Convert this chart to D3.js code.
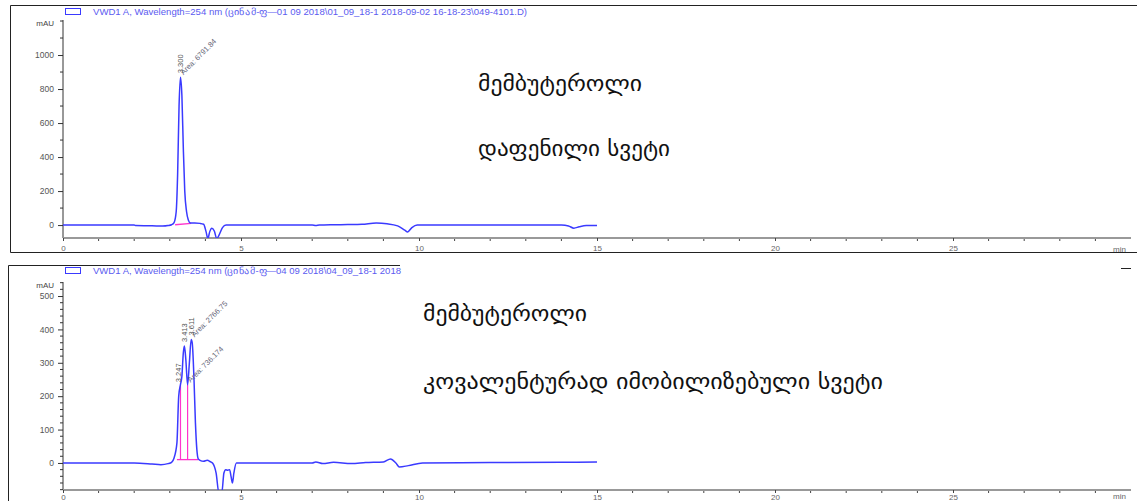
<!DOCTYPE html>
<html><head><meta charset="utf-8">
<script src="https://cdn.jsdelivr.net/npm/d3@7/dist/d3.min.js"></script>
<style>
html,body{margin:0;padding:0;background:#fff;}
svg{display:block;}
</style></head>
<body>
<svg id="chart" width="1137" height="501"></svg>
<script>
// ---- DATA ----
// Top chromatogram (time in min, signal in mAU)
const topTime   = [0,1,2,2.05,2.5,2.8,2.95,3.05,3.12,3.18,3.22,3.26,3.30,3.34,3.38,3.42,3.47,3.52,3.58,3.7,3.85,3.95,4.02,4.07,4.12,4.18,4.25,4.32,4.38,4.48,4.58,5,6,7,7.1,7.2,7.6,8,8.4,8.8,9.1,9.4,9.6,9.68,9.8,9.95,10.5,12,14,14.2,14.35,14.5,14.7,15];
const topSignal = [0,0,0,-3,-4,-6,-3,2,15,80,300,700,870,760,450,200,80,30,12,12,10,5,-40,-80,-40,-18,-35,-80,-60,-15,0,0,0,0,-3,0,2,3,5,12,8,-5,-30,-40,-15,0,0,0,0,-5,-18,-10,-3,-3];
const topBaselineTime = [3.15,3.6];
const topBaselineVal  = [2,10];
const topPeakLabels = ["3.300"];
const topPeakTimes  = [3.30];
const topAreaLabels = ["Area: 6791.84"];

// Bottom chromatogram
const botTime   = [0,1,2,2.5,2.75,2.95,3.05,3.12,3.2,3.25,3.3,3.34,3.38,3.41,3.45,3.5,3.55,3.6,3.63,3.68,3.72,3.76,3.8,3.85,3.95,4.05,4.15,4.2,4.3,4.38,4.46,4.52,4.57,4.63,4.68,4.72,4.76,4.8,4.87,5,6,7,7.1,7.3,7.6,8.1,8.5,9,9.2,9.35,9.45,9.7,10.1,12,14,15];
const botSignal = [0,0,0,-3,-5,-2,2,15,60,200,235,260,330,350,310,234,300,370,360,250,120,40,12,8,5,8,3,0,-30,-90,-90,-30,-20,-22,-20,-40,-60,-30,0,0,0,0,3,-2,2,-2,1,3,12,0,-12,-8,0,1,2,3];
const botBaselineTime = [3.2,3.8];
const botBaselineVal  = [10,10];
const botDropTimes = [3.3,3.5];
const botDropTops  = [235,234];
const botPeakLabels = ["3.247","3.413","3.611"];
const botPeakTimes  = [3.247,3.413,3.611];
const botPeakVals   = [230,350,370];
const botAreaLabels = ["Area: 736.174","Area: 2766.75"];
const botAreaTimes  = [3.5,3.611];
const botAreaVals   = [234,370];

// axes ticks
const xMajor = [0,5,10,15,20,25];
const topYMajor = [0,200,400,600,800,1000];
const botYMajor = [0,100,200,300,400,500];

const topTitle = "VWD1 A, Wavelength=254 nm (ცინამ‑ფ—01 09 2018\\01_09_18-1 2018-09-02 16-18-23\\049-4101.D)";
const botTitle = "VWD1 A, Wavelength=254 nm (ცინამ‑ფ—04 09 2018\\04_09_18-1 2018";
const topNotes = ["მემბუტეროლი","დაფენილი სვეტი"];
const botNotes = ["მემბუტეროლი","კოვალენტურად იმობილიზებული სვეტი"];

// ---- DRAW ----
const svg = d3.select("#chart");
const LBL = "'Liberation Sans', Arial, sans-serif";
const TRACE = "#3a3aff";

// Frames
svg.append("path").attr("d","M10.5,252.5 V5.5 H1137 M10.5,252.5 H1137").attr("fill","none").attr("stroke","#222").attr("stroke-width",1);
svg.append("path").attr("d","M8.5,501 V265.5 H400").attr("fill","none").attr("stroke","#222").attr("stroke-width",1);
svg.append("line").attr("x1",1121).attr("x2",1131).attr("y1",268.5).attr("y2",268.5).attr("stroke","#222");

function panel(o){
  const x = d3.scaleLinear().domain([0,30]).range([63,1131]);
  const y = d3.scaleLinear().domain(o.yDomain).range(o.yRange);
  const g = svg.append("g");
  const id = "clip"+o.name;
  svg.append("defs").append("clipPath").attr("id",id).append("rect")
    .attr("x",63).attr("y",o.yRange[1]).attr("width",1131-63).attr("height",o.yRange[0]-o.yRange[1]);

  // legend + title
  g.append("rect").attr("x",65.5).attr("y",o.titleY-3.5).attr("width",15).attr("height",6)
    .attr("fill","none").attr("stroke",TRACE).attr("stroke-width",1);
  g.append("text").attr("x",93).attr("y",o.titleY+3).attr("font-family",LBL).attr("font-size",8.5)
    .attr("fill","#5b5bf0").attr("textLength",o.titleLen).attr("lengthAdjust","spacingAndGlyphs").text(o.title);

  // y axis
  const yAxis = d3.axisLeft(y).tickValues(o.yMajor).tickSize(5).tickPadding(4).tickFormat(d3.format("d"));
  const ya = g.append("g").attr("transform","translate(63,0)").call(yAxis);
  ya.select(".domain").attr("d",`M0,${o.yRange[1]}V${o.yRange[0]}`).attr("stroke","#333");
  ya.selectAll(".tick line").attr("stroke","#333");
  ya.selectAll(".tick text").attr("font-family",LBL).attr("font-size",8.5).attr("fill","#555");
  const yMinor = d3.range(Math.ceil(o.yDomain[0]/o.minorY)*o.minorY, o.yDomain[1], o.minorY)
      .filter(v=>o.yMajor.indexOf(v)<0);
  g.selectAll(".ymin").data(yMinor).enter().append("line")
    .attr("x1",60).attr("x2",63).attr("y1",d=>y(d)).attr("y2",d=>y(d)).attr("stroke","#333");
  g.append("text").attr("x",54).attr("y",o.yRange[1]+6).attr("text-anchor","end")
    .attr("font-family",LBL).attr("font-size",8).attr("fill","#444").text("mAU");

  // x axis
  const xa = g.append("g").attr("transform",`translate(0,${o.yRange[0]})`)
    .call(d3.axisBottom(x).tickValues(xMajor).tickSize(3).tickPadding(o.xPad).tickFormat(d3.format("d")));
  xa.select(".domain").attr("d","M63,0H1131").attr("stroke","#999").attr("stroke-width",2.2);
  xa.selectAll(".tick line").attr("stroke","#444");
  xa.selectAll(".tick text").attr("font-family",LBL).attr("font-size",8).attr("fill","#666");
  g.selectAll(".xmin").data(d3.range(1,30).filter(v=>v%5)).enter().append("line")
    .attr("x1",d=>x(d)).attr("x2",d=>x(d)).attr("y1",o.yRange[0]+1).attr("y2",o.yRange[0]+3).attr("stroke","#444");
  g.append("text").attr("x",1113).attr("y",o.yRange[0]+o.minY).attr("font-family",LBL).attr("font-size",8)
    .attr("fill","#666").text("min");

  const plot = g.append("g").attr("clip-path",`url(#${id})`);
  // baseline(s)
  plot.append("path").attr("d",d3.line().x(d=>x(d[0])).y(d=>y(d[1]))(d3.zip(o.bt,o.bv)))
    .attr("stroke","#ff33cc").attr("stroke-width",1.3).attr("fill","none");
  (o.dropT||[]).forEach((t,i)=>{
    plot.append("line").attr("x1",x(t)).attr("x2",x(t)).attr("y1",y(o.bv[0])).attr("y2",y(o.dropV[i]))
      .attr("stroke","#ff33cc").attr("stroke-width",1.2);
  });
  // trace
  plot.append("path").attr("d",d3.line().x(d=>x(d[0])).y(d=>y(d[1])).curve(d3.curveMonotoneX)(d3.zip(o.t,o.s)))
    .attr("stroke",TRACE).attr("stroke-width",1.5).attr("fill","none");

  // peak labels
  o.pl.forEach((lab,i)=>{
    const px = x(o.pt[i]), py = y(o.pv[i]);
    g.append("text").attr("transform",`translate(${px+2.5},${py-4}) rotate(-90)`)
      .attr("font-family",LBL).attr("font-size",7.5).attr("fill","#555").text(lab);
  });
  o.al.forEach((lab,i)=>{
    const px = x(o.at[i]), py = y(o.av[i]);
    g.append("text").attr("transform",`translate(${px+3},${py-2}) rotate(-45)`)
      .attr("font-family",LBL).attr("font-size",7.5).attr("fill","#667").text(lab);
  });

  // notes
  o.notes.forEach((n,i)=>{
    svg.append("text").attr("x",o.noteX).attr("y",o.noteY[i]).attr("font-family","'DejaVu Sans', sans-serif")
      .attr("font-size",21).attr("fill","#111")
      .attr("textLength",o.noteLen[i]).attr("lengthAdjust","spacingAndGlyphs").text(n);
  });
}

panel({name:"top", yDomain:[-76,1206], yRange:[238,20], yMajor:topYMajor, minorY:100, titleY:12, titleLen:434, xPad:4, minY:14,
  title:topTitle, t:topTime, s:topSignal, bt:topBaselineTime, bv:topBaselineVal,
  pl:topPeakLabels, pt:topPeakTimes, pv:[870], al:topAreaLabels, at:[3.30], av:[870],
  notes:topNotes, noteX:478, noteY:[91,156], noteLen:[164,192]});
panel({name:"bot", yDomain:[-81,542], yRange:[490,282], yMajor:botYMajor, minorY:20, titleY:271, titleLen:308, xPad:1, minY:9,
  title:botTitle, t:botTime, s:botSignal, bt:botBaselineTime, bv:botBaselineVal, dropT:botDropTimes, dropV:botDropTops,
  pl:botPeakLabels, pt:botPeakTimes, pv:botPeakVals, al:botAreaLabels, at:botAreaTimes, av:botAreaVals,
  notes:botNotes, noteX:423, noteY:[321,389], noteLen:[164,460]});
</script>
</body></html>
